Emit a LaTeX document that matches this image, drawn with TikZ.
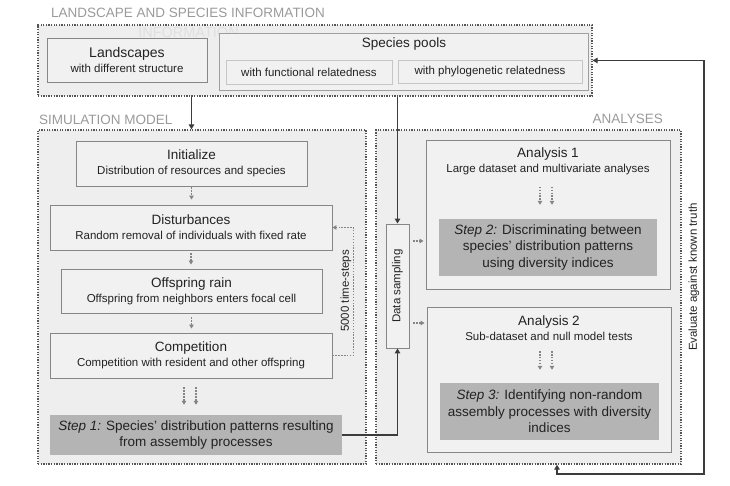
\documentclass[tikz,border=0pt]{standalone}
\usepackage{fontspec}
\setmainfont{Liberation Sans}
\usetikzlibrary{arrows.meta}

\definecolor{panelfill}{HTML}{EEEEEF}
\definecolor{panelline}{HTML}{555555}
\definecolor{boxfill}{HTML}{F1F1F1}
\definecolor{boxline}{HTML}{868686}
\definecolor{subline}{HTML}{C6C6C6}
\definecolor{stepfill}{HTML}{B4B4B4}
\definecolor{labelgray}{HTML}{9A9A9A}
\definecolor{ghostgray}{HTML}{E0E0E1}
\definecolor{arrowgray}{HTML}{3C3C3C}
\definecolor{dotgray}{HTML}{858585}
\definecolor{txtgray}{HTML}{222222}

\newcommand{\hd}[1]{{\fontsize{13.5}{15}\selectfont #1}}

\tikzset{
  >={Triangle[width=5.5pt,length=5pt]},
  panel/.style={draw=panelline, fill=panelfill, line width=1.3pt,
    dash pattern=on 1.3pt off 1.3pt, inner sep=0},
  box/.style={draw=boxline, fill=boxfill, line width=0.9pt, inner sep=0,
    align=center, text=txtgray, font=\fontsize{11.5}{15}\selectfont},
  subbox/.style={box, draw=subline, line width=0.7pt},
  stepbox/.style={fill=stepfill, inner sep=0, align=center, text=txtgray,
    font=\fontsize{13.5}{16.5}\selectfont},
  txt/.style={inner sep=0, align=center, text=txtgray,
    font=\fontsize{11.5}{15}\selectfont},
  paneltitle/.style={inner sep=0, text=labelgray, font=\fontsize{13.5}{16}\selectfont},
  mainarrow/.style={draw=arrowgray, line width=1.4pt, ->},
  dotarrow/.style={draw=dotgray, line width=1.5pt, dash pattern=on 1.5pt off 1.4pt,
    -{Triangle[width=4.5pt,length=4pt]}},
}

\begin{document}
\begin{tikzpicture}[x=1pt, y=-1pt]

  \useasboundingbox (0,0) rectangle (730,486);

  % panels
  \node[panel, minimum width=554, minimum height=71] (landpanel) at (315,60.5) {};
  \node[panel, minimum width=328, minimum height=334] (simpanel) at (202,297) {};
  \node[panel, minimum width=305, minimum height=334] (analpanel) at (528.5,297) {};

  \node[paneltitle, anchor=west] (landtitle) at (51,13) {LANDSCAPE AND SPECIES INFORMATION};
  \node[paneltitle, anchor=west] (simtitle) at (39,120) {SIMULATION MODEL};
  \node[paneltitle, anchor=east] (analtitle) at (663,119) {ANALYSES};
  \node[inner sep=0, text=ghostgray, font=\fontsize{14.5}{16}\selectfont] (ghost) at (188.5,33) {INFORMATION};

  % landscape and species information
  \node[box, minimum width=160, minimum height=44] (landbox) at (127,60)
    {{\fontsize{14}{15}\selectfont Landscapes}\\with different structure};
  \node[box, draw=boxline!80, minimum width=369, minimum height=57] (poolbox) at (403.5,61.5) {};
  \node[txt] (pooltitle) at (404,44) {\hd{Species pools}};
  \node[subbox, minimum width=166, minimum height=24] (funcbox) at (309,72) {with functional relatedness};
  \node[subbox, minimum width=184, minimum height=23] (phylbox) at (490,71.5) {with phylogenetic relatedness};

  % simulation model
  \node[box, minimum width=231, minimum height=45] (init) at (191.5,163.5)
    {\hd{Initialize}\\Distribution of resources and species};
  \node[box, minimum width=282, minimum height=45] (dist) at (191,227.5)
    {\hd{Disturbances}\\Random removal of individuals with fixed rate};
  \node[box, minimum width=261, minimum height=44] (offs) at (191.5,291)
    {\hd{Offspring rain}\\Offspring from neighbors enters focal cell};
  \node[box, minimum width=282, minimum height=45] (comp) at (191,355.5)
    {\hd{Competition}\\Competition with resident and other offspring};
  \node[stepbox, minimum width=292, minimum height=40] (step1) at (196,435)
    {\textit{Step 1:} Species' distribution patterns resulting\\from assembly processes};
  \node[txt, rotate=90] (timelabel) at (346,291) {5000 time-steps};

  % analyses
  \node[box, minimum width=23, minimum height=124] (sampling) at (397.5,286) {};
  \node[txt, rotate=90] (samplingtxt) at (sampling.center) {Data sampling};
  \node[box, minimum width=244, minimum height=149] (ana1) at (548,214.5) {};
  \node[txt] (ana1title) at (548,161) {\hd{Analysis 1}\\Large dataset and multivariate analyses};
  \node[stepbox, minimum width=218, minimum height=57] (step2) at (548,247.5)
    {\textit{Step 2:} Discriminating between\\species' distribution patterns\\using diversity indices};
  \node[box, minimum width=244, minimum height=145] (ana2) at (549,379.5) {};
  \node[txt] (ana2title) at (549,328.5) {\hd{Analysis 2}\\Sub-dataset and null model tests};
  \node[stepbox, minimum width=219, minimum height=57] (step3) at (549.5,411.5)
    {\textit{Step 3:} Identifying non-random\\assembly processes with diversity\\indices};
  \node[txt, rotate=90] (evallabel) at (694,277) {Evaluate against known truth};

  % connectors
  \draw[mainarrow] (init.north |- landpanel.south) -- (init.north |- simpanel.north);
  \draw[mainarrow] (sampling.north |- landpanel.south) -- (sampling.north);
  \draw[mainarrow] (step1.east) -| (sampling.south);
  \coordinate (evalcorner) at (704,474);
  \draw[mainarrow, <->] ([xshift=28.5]analpanel.south) |- (evalcorner) |- (landpanel.east);

  \draw[dotarrow, shorten <=1, shorten >=5] (init.south) -- (init.south |- dist.north);
  \draw[dotarrow, shorten <=3, shorten >=4] (dist.south) -- (dist.south |- offs.north);
  \draw[dotarrow, shorten <=4, shorten >=4] (offs.south) -- (offs.south |- comp.north);
  \draw[dotarrow, shorten <=9, shorten >=10] ([xshift=-7]comp.south) -- ([xshift=-7]comp.south |- step1.north);
  \draw[dotarrow, shorten <=9, shorten >=10] ([xshift=5]comp.south) -- ([xshift=5]comp.south |- step1.north);
  \draw[dotarrow] (comp.east) -- ++(21,0) |- (dist.east);

  \draw[dotarrow, shorten <=4, shorten >=2] ([yshift=45]sampling.east) -- ([yshift=45]sampling.east -| ana1.west);
  \draw[dotarrow, shorten <=4, shorten >=2] ([yshift=-37]sampling.east) -- ([yshift=-37]sampling.east -| ana2.west);
  \draw[dotarrow, shorten <=12, shorten >=14] ([xshift=-8]ana1title.south) -- ([xshift=-8]ana1title.south |- step2.north);
  \draw[dotarrow, shorten <=12, shorten >=14] ([xshift=4]ana1title.south) -- ([xshift=4]ana1title.south |- step2.north);
  \draw[dotarrow, shorten <=10, shorten >=13] ([xshift=-9]ana2title.south) -- ([xshift=-9]ana2title.south |- step3.north);
  \draw[dotarrow, shorten <=10, shorten >=13] ([xshift=3]ana2title.south) -- ([xshift=3]ana2title.south |- step3.north);

\end{tikzpicture}
\end{document}
